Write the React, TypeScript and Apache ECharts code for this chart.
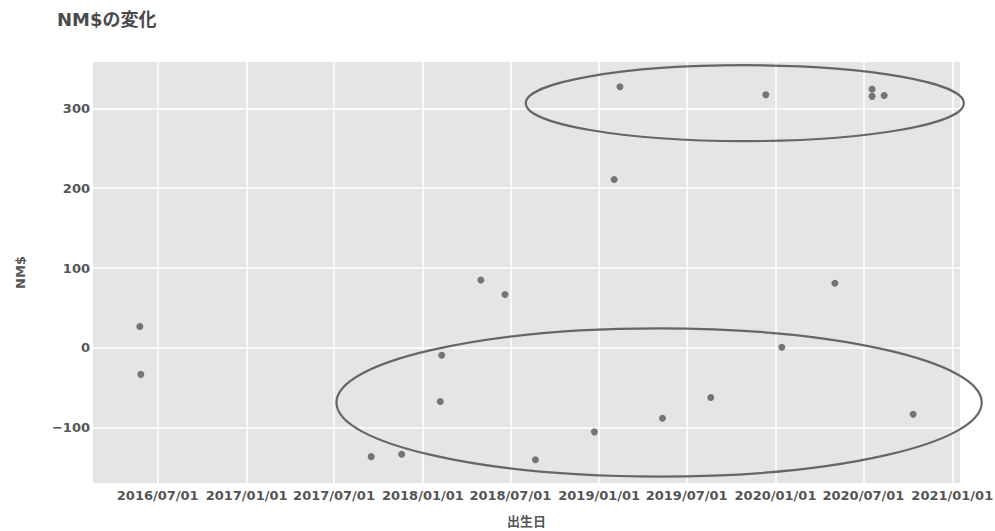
import React, { useEffect, useRef } from "react";
import * as echarts from "echarts";

const titleText = "NM$の変化";
const yAxisName = "NM$";
const xAxisName = "出生日";

const birthDates = [
  "2016-05-25", "2016-05-27", "2017-09-16", "2017-11-18", "2018-02-09",
  "2018-02-06", "2018-05-01", "2018-06-20", "2018-08-22", "2018-12-22",
  "2019-02-01", "2019-02-13", "2019-05-12", "2019-08-20", "2019-12-12",
  "2020-01-14", "2020-05-03", "2020-07-19", "2020-07-19", "2020-08-13",
  "2020-10-12",
];
const nmValues = [
  27, -33, -136, -133, -9,
  -67, 85, 67, -140, -105,
  211, 327, -88, -62, 317,
  1, 81, 324, 315, 316,
  -83,
];

const xTickDates = [
  "2016-07-01", "2017-01-01", "2017-07-01", "2018-01-01", "2018-07-01",
  "2019-01-01", "2019-07-01", "2020-01-01", "2020-07-01", "2021-01-01",
];
const yTickValues = [-100, 0, 100, 200, 300];
const xRange = ["2016-02-18", "2021-01-17"];
const yRange = [-169, 358];

// annotation ellipses, bounding boxes in data space
const ellipseBoxes = [
  { x0: "2018-08-02", x1: "2021-01-25", y0: 259, y1: 354 },
  { x0: "2017-07-06", x1: "2021-03-03", y0: -161, y1: 24.5 },
];

const toMs = (s: string) => {
  const [y, m, d] = s.split("-").map(Number);
  return Date.UTC(y, m - 1, d);
};
const pad = (n: number) => (n < 10 ? "0" + n : "" + n);

const FONT = "'DejaVu Sans', 'Noto Sans CJK JP', sans-serif";
const TEXT_COLOR = "#555";

export default function App() {
  const ref = useRef<HTMLDivElement>(null);
  useEffect(() => {
    if (!ref.current) return;
    const chart = echarts.init(ref.current, undefined, { renderer: "svg" });
    const xTicks = xTickDates.map(toMs);
    chart.setOption({
      animation: false,
      title: {
        text: titleText,
        left: 52,
        top: 5,
        textStyle: { fontFamily: FONT, fontSize: 18, fontWeight: "bold", color: "#4a4a4a" },
      },
      grid: {
        left: 93,
        top: 62,
        width: 867,
        height: 421,
        outerBoundsMode: "none",
        containLabel: false,
        show: true,
        backgroundColor: "#e4e5e7",
        borderWidth: 0,
      },
      xAxis: {
        type: "value",
        min: toMs(xRange[0]),
        max: toMs(xRange[1]),
        name: xAxisName,
        nameLocation: "middle",
        nameGap: 32,
        nameTextStyle: { fontFamily: FONT, fontSize: 13, fontWeight: "bold", color: TEXT_COLOR },
        axisLine: { show: false },
        axisTick: { show: false, customValues: xTicks },
        axisLabel: {
          customValues: xTicks,
          margin: 6,
          fontFamily: FONT,
          fontSize: 13,
          fontWeight: "bold",
          color: TEXT_COLOR,
          formatter: (v: number) => {
            const d = new Date(v);
            return `${d.getUTCFullYear()}/${pad(d.getUTCMonth() + 1)}/${pad(d.getUTCDate())}`;
          },
        },
        splitLine: { show: true, lineStyle: { color: "#ffffff", width: 1.5 } },
      },
      yAxis: {
        type: "value",
        min: yRange[0],
        max: yRange[1],
        name: yAxisName,
        nameLocation: "middle",
        nameGap: 66,
        nameRotate: 90,
        nameTextStyle: { fontFamily: FONT, fontSize: 13, fontWeight: "bold", color: TEXT_COLOR },
        axisLine: { show: false },
        axisTick: { show: false, customValues: yTickValues },
        axisLabel: {
          customValues: yTickValues,
          margin: 3,
          fontFamily: FONT,
          fontSize: 13,
          fontWeight: "bold",
          color: TEXT_COLOR,
          formatter: (v: number) => (v < 0 ? "\u2212" + Math.abs(v) : String(v)),
        },
        splitLine: { show: true, lineStyle: { color: "#ffffff", width: 1.5 } },
      },
      series: [
        {
          type: "scatter",
          symbol: "circle",
          symbolSize: 7,
          itemStyle: { color: "#58585a" },
          data: birthDates.map((d, i) => [toMs(d), nmValues[i]]),
        },
      ],
    });
    const graphics = ellipseBoxes.map((b) => {
      const p0 = chart.convertToPixel({ xAxisIndex: 0, yAxisIndex: 0 }, [toMs(b.x0), b.y1]) as number[];
      const p1 = chart.convertToPixel({ xAxisIndex: 0, yAxisIndex: 0 }, [toMs(b.x1), b.y0]) as number[];
      return {
        type: "ellipse",
        silent: true,
        shape: {
          cx: (p0[0] + p1[0]) / 2,
          cy: (p0[1] + p1[1]) / 2,
          rx: Math.abs(p1[0] - p0[0]) / 2,
          ry: Math.abs(p1[1] - p0[1]) / 2,
        },
        style: { fill: "none", stroke: "#666", lineWidth: 2.2 },
        z: 10,
      };
    });
    chart.setOption({ graphic: graphics });
    return () => chart.dispose();
  }, []);
  return (
    <div
      ref={ref}
      style={{ position: "fixed", left: 0, top: 0, width: 995, height: 531, background: "#fff" }}
    />
  );
}
